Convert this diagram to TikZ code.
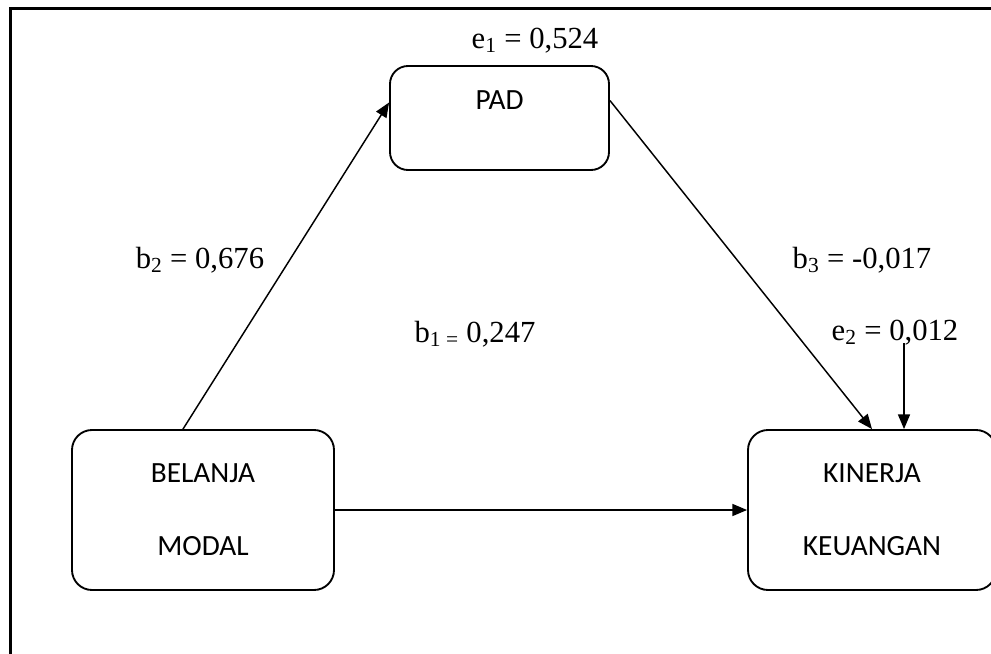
\documentclass[tikz,border=0pt]{standalone}
\usepackage{fontspec}
\setmainfont{Liberation Serif}
\newfontfamily\boxfont{Carlito}
\usetikzlibrary{arrows.meta}

\tikzset{every picture/.style={line width=0.75pt}}
\tikzset{
	varbox/.style={draw, rounded corners=15pt, line width=1.4pt, align=center, inner sep=0pt,
		font=\boxfont\fontsize{22}{55}\selectfont},
	coef/.style={anchor=base, inner sep=0.75pt, font=\fontsize{23}{28}\selectfont},
	path arrow/.style={line width=1.1pt, -{Triangle[length=11pt,width=9pt]}}}

\begin{document}
\begin{tikzpicture}[x=0.75pt,y=0.75pt,yscale=-1,xscale=1]
\useasboundingbox (0,0) rectangle (991,653);

%Frame
\draw [line width=2pt] (10.5,670) -- (10.5,8.5) -- (1010,8.5) ;

%Rounded Rect
\node [varbox, minimum width=196.5pt, minimum height=120pt] (belanja) at (203,510) {BELANJA\\MODAL};
%Rounded Rect
\node [varbox, minimum width=164.25pt, minimum height=78pt, text depth=27pt, rounded corners=13.5pt] (pad) at (499.5,118) {PAD};
%Rounded Rect
\node [varbox, minimum width=186pt, minimum height=120pt] (kinerja) at (872,510) {KINERJA\\KEUANGAN};

% Text Node
\node [coef] (e1) at (535,48) {e\textsubscript{1} = 0,524};
% Text Node
\node [coef] (b2) at (200,268) {b\textsubscript{2} = 0,676};
% Text Node
\node [coef] (b1) at (475,342) {b\textsubscript{1 =} 0,247};
% Text Node
\node [coef] (b3) at (862,268) {b\textsubscript{3} = -0,017};
% Text Node
\node [coef] (e2) at (895,340) {e\textsubscript{2} = 0,012};
\coordinate (e2in) at (904,343);

%Straight Lines
\draw [path arrow] ([xshift=-15pt]belanja.north) -- (pad.172) ;
\draw [path arrow] (pad.9) -- (kinerja.north) ;
\draw [path arrow] (belanja.east) -- (kinerja.west) ;
\draw [path arrow] (e2in) -- (e2in |- kinerja.north) ;

\end{tikzpicture}
\end{document}
